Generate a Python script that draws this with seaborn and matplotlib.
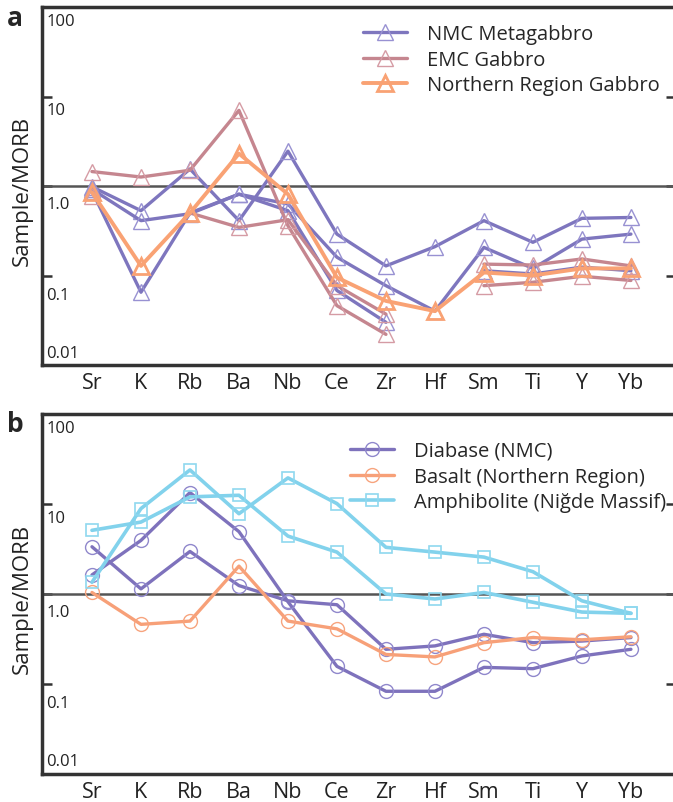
import numpy as np
import pandas as pd
import seaborn as sns
import matplotlib
matplotlib.use('Agg')
import matplotlib.pyplot as plt
from matplotlib.lines import Line2D
from matplotlib.ticker import NullLocator

nan = np.nan

elements = ['Sr', 'K', 'Rb', 'Ba', 'Nb', 'Ce', 'Zr', 'Hf', 'Sm', 'Ti', 'Y', 'Yb']
y_ticks = [0.01, 0.1, 1, 10, 100]
y_tick_labels = ['0.01', '0.1', '1.0', '10', '100']

# panel a : gabbros (sample / MORB)
nmc_metagabbro = [
    [0.98, 0.53, 1.55, 0.41, 2.45, 0.29, 0.128, 0.21, 0.41, 0.235, 0.435, 0.445],
    [0.92, 0.41, 0.49, 0.81, 0.63, 0.16, 0.077, 0.040, 0.206, 0.12, 0.255, 0.29],
    [0.88, 0.065, 0.50, 0.81, 0.53, 0.068, 0.030, nan, 0.113, 0.104, 0.124, 0.113],
]
emc_gabbro = [
    [1.45, 1.26, 1.5, 7.0, 0.36, 0.046, 0.022, nan, 0.077, 0.084, 0.098, 0.088],
    [0.78, nan, 0.50, 0.345, 0.42, 0.077, 0.037, nan, 0.134, 0.131, 0.153, 0.128],
]
northern_gabbro = [
    [0.85, 0.128, 0.50, 2.3, 0.81, 0.095, 0.052, 0.040, 0.108, 0.10, 0.12, 0.12],
]

# panel b : diabase, basalt, amphibolite
diabase_nmc = [
    [3.35, 1.14, 2.97, 1.24, 0.84, 0.76, 0.243, 0.265, 0.357, 0.288, 0.30, 0.328],
    [1.63, 3.94, 13.4, 4.93, 0.82, 0.157, 0.083, 0.083, 0.153, 0.148, 0.205, 0.243],
]
basalt_northern = [
    [1.04, 0.46, 0.50, 2.04, 0.50, 0.41, 0.213, 0.20, 0.288, 0.328, 0.31, 0.335],
]
amphibolite_nigde = [
    [5.1, 6.3, 12.0, 12.5, 4.4, 2.92, 1.0, 0.88, 1.04, 0.81, 0.63, 0.61],
    [1.35, 8.9, 23.9, 7.8, 19.5, 10.1, 3.3, 2.92, 2.57, 1.77, 0.84, 0.61],
]

sns.set_style('white')
plt.rcParams['font.family'] = ['Open Sans', 'DejaVu Sans']

W, H = 673, 803
fig = plt.figure(figsize=(W / 100, H / 100), dpi=100)
ax_a = fig.add_axes([42 / W, 1 - 366 / H, 634 / W, 358 / H])
ax_b = fig.add_axes([42 / W, 1 - 775 / H, 634 / W, 360 / H])


def draw_sample(ax, values, style):
    vals = np.array(values, dtype=float)
    pos = np.arange(len(vals))
    ok = ~np.isnan(vals)
    seg = np.cumsum(~ok)
    df = pd.DataFrame({'pos': pos[ok], 'value': vals[ok], 'seg': seg[ok]})
    for _, part in df.groupby('seg'):
        sns.lineplot(data=part, x='pos', y='value', ax=ax, errorbar=None,
                     color=style['color'], linewidth=style['lw'],
                     marker=style['marker'], markersize=style['ms'],
                     markerfacecolor='none', markeredgecolor=style['edge'],
                     markeredgewidth=style['mew'], legend=False)


def style_axes(ax, letter, legend_items, legend_xy):
    ax.set_yscale('log')
    ax.set_ylim(0.01, 100)
    ax.set_xlim(-1.02, 11.92)
    ax.axhline(1, color='#555555', lw=1.8, zorder=1)
    ax.set_xticks(range(len(elements)))
    ax.set_xticklabels(elements)
    ax.set_yticks(y_ticks)
    ax.set_yticklabels([])
    ax.yaxis.set_minor_locator(NullLocator())
    ax.tick_params(axis='x', direction='in', length=9, width=2, color='#333333',
                   labelsize=15.5, pad=5, labelcolor='#222222')
    ax.tick_params(axis='y', direction='in', length=7, width=1.8, color='#333333',
                   left=True, right=True, labelleft=False)
    for sp in ax.spines.values():
        sp.set_linewidth(2.5)
        sp.set_color('#333333')
    ax.set_xlabel('')
    ax.set_ylabel('Sample/MORB', fontsize=16, color='#222222')
    ax.yaxis.set_label_coords(-0.014, 0.49)
    offsets = [9, -14, -13, -10, -10]
    for v, lab, dy in zip(y_ticks, y_tick_labels, offsets):
        ax.annotate(lab, xy=(0, v), xycoords=ax.get_yaxis_transform(),
                    xytext=(3, dy), textcoords='offset points',
                    ha='left', va='center', fontsize=12, color='#222222')
    bbox = ax.get_position()
    fig.text(bbox.x0 - 27 / W, bbox.y1 - 10 / H, letter, fontsize=19,
             fontweight='bold', ha='center', va='center')
    handles = [Line2D([], [], color=s['color'], lw=s['lw'], marker=s['marker'],
                      markersize=s['ms'], markerfacecolor='none',
                      markeredgecolor=s['edge'], markeredgewidth=s['mew'])
               for _, s in legend_items]
    labels = [name for name, _ in legend_items]
    ax.legend(handles, labels, loc='upper left', bbox_to_anchor=legend_xy,
              frameon=False, fontsize=14.5, handlelength=2.2, handletextpad=1.0,
              labelspacing=0.28, borderpad=0, borderaxespad=0)


purple_tri = dict(color='#7e76be', edge='#9891d2', lw=2.4, marker='^', ms=11.5, mew=1.0)
mauve_tri = dict(color='#c5868f', edge='#d59ba4', lw=2.4, marker='^', ms=11.5, mew=1.0)
orange_tri = dict(color='#f9a274', edge='#f9a274', lw=2.8, marker='^', ms=11.5, mew=2.0)
purple_circ = dict(color='#7e72bc', edge='#9088cc', lw=2.4, marker='o', ms=10, mew=1.0)
orange_circ = dict(color='#f7a078', edge='#f7a47e', lw=2.4, marker='o', ms=10, mew=1.0)
blue_sq = dict(color='#82d2ec', edge='#8fd8ef', lw=2.6, marker='s', ms=9, mew=1.2)

for row in nmc_metagabbro:
    draw_sample(ax_a, row, purple_tri)
for row in emc_gabbro:
    draw_sample(ax_a, row, mauve_tri)
for row in northern_gabbro:
    draw_sample(ax_a, row, orange_tri)

for row in diabase_nmc:
    draw_sample(ax_b, row, purple_circ)
for row in basalt_northern:
    draw_sample(ax_b, row, orange_circ)
for row in amphibolite_nigde:
    draw_sample(ax_b, row, blue_sq)

style_axes(ax_a, 'a',
           [('NMC Metagabbro', purple_tri), ('EMC Gabbro', mauve_tri),
            ('Northern Region Gabbro', orange_tri)],
           ((363 - 42) / 634, 1 - (25 - 8) / 358))
style_axes(ax_b, 'b',
           [('Diabase (NMC)', purple_circ), ('Basalt (Northern Region)', orange_circ),
            ('Amphibolite (Niğde Massif)', blue_sq)],
           ((350 - 42) / 634, 1 - (442 - 415) / 360))

fig.savefig('out.png', dpi=100)
